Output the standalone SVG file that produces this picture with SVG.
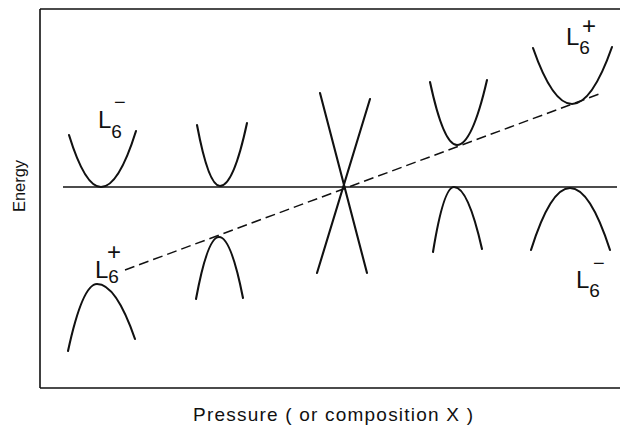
<svg xmlns="http://www.w3.org/2000/svg" width="620" height="427" viewBox="0 0 620 427">
<style>
.frame{fill:none;stroke:#111;stroke-width:1.6}
.axis{fill:none;stroke:#111;stroke-width:1.6}
.band{fill:none;stroke:#111;stroke-width:2.1;stroke-linecap:round}
.dash{fill:none;stroke:#111;stroke-width:1.5;stroke-dasharray:10 5}
.lbl{font-family:"Liberation Sans",Arial,sans-serif;fill:#111;font-size:24px}
.sub{font-size:19px}
.plus{font-size:24px}
.minus{font-size:20px}
.ax{font-family:"Liberation Sans",Arial,sans-serif;fill:#111}
</style>
<rect width="620" height="427" fill="#fff"/>
<g id="frame">
<path class="frame" d="M40,9 H620 M40,9 V388 M40,388 H620"/>
</g>
<g id="connectors">
<path class="axis" d="M63,187 H617"/>
<path class="dash" d="M125,270 L602,93"/>
</g>
<g id="band-1-upper"><path class="band" d="M69,135 Q85,187 101,187 Q118.5,187 136,131"/></g>
<g id="band-1-lower"><path class="band" d="M68,351 Q82.5,284 97,284 Q116,284 135,339"/></g>
<g id="band-2-upper"><path class="band" d="M197,125 Q208.5,186 220,186 Q233.5,186 247,123"/></g>
<g id="band-2-lower"><path class="band" d="M196,299 Q207.5,237 219,237 Q231,237 243,298"/></g>
<g id="band-3-cross"><path class="band" d="M320,93 L367,273 M370,99 L317,273"/></g>
<g id="band-4-upper"><path class="band" d="M430,82 Q443.5,145 457,145 Q472,145 487,80"/></g>
<g id="band-4-lower"><path class="band" d="M433,252 Q443.5,187 454,187 Q468,187 482,249"/></g>
<g id="band-5-upper"><path class="band" d="M533,48 Q552.5,104 572,104 Q592,104 612,47"/></g>
<g id="band-5-lower"><path class="band" d="M531,250 Q550.5,188 570,188 Q590,188 610,250"/></g>
<g id="label-L6minus-left">
<text class="lbl" x="98" y="128">L<tspan class="sub" dy="10">6</tspan><tspan class="minus" dx="-8" dy="-29">−</tspan></text>
</g>
<g id="label-L6plus-left">
<text class="lbl" x="95" y="278">L<tspan class="sub" dy="5">6</tspan><tspan class="plus" dx="-12" dy="-23">+</tspan></text>
</g>
<g id="label-L6plus-right">
<text class="lbl" x="566" y="45">L<tspan class="sub" dy="9">6</tspan><tspan class="plus" dx="-8" dy="-20">+</tspan></text>
</g>
<g id="label-L6minus-right">
<text class="lbl" x="576" y="288">L<tspan class="sub" dy="9">6</tspan><tspan class="minus" dx="-7" dy="-27">−</tspan></text>
</g>
<text class="ax" transform="translate(25,186) rotate(-90)" text-anchor="middle" font-size="17" textLength="52" lengthAdjust="spacingAndGlyphs">Energy</text>
<text class="ax" x="193" y="421" font-size="19" textLength="280" lengthAdjust="spacing">Pressure ( or composition X )</text>
</svg>
